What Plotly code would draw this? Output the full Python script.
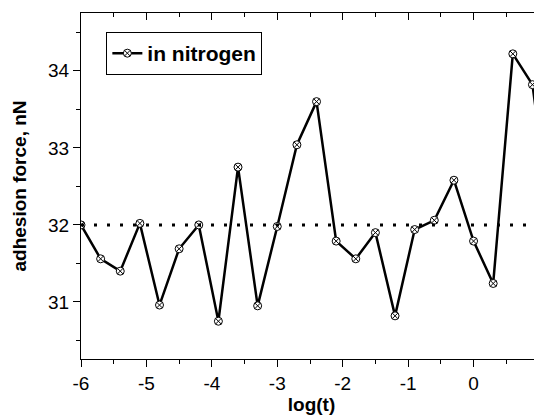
import plotly.graph_objects as go


# Valores.
LOG_T = [-6.0, -5.7, -5.4, -5.1, -4.8, -4.5, -4.2, -3.9, -3.6, -3.3, -3.0, -2.7, -2.4,
         -2.1, -1.8, -1.5, -1.2, -0.9, -0.6, -0.3, 0.0, 0.3, 0.6, 0.9, 1.2]
FUERZA = [32.00, 31.56, 31.40, 32.02, 30.96, 31.69, 32.00, 30.75, 32.75, 30.95, 31.98,
          33.04, 33.60, 31.79, 31.56, 31.90, 30.82, 31.94, 32.06, 32.58, 31.79, 31.24,
          34.22, 33.82, 31.90]
NIVEL_REF = 32.0
SERIE = "in nitrogen"

# Etiquetas de los ejes (con guion normal, como en el original).
X_TICKS = [-6, -5, -4, -3, -2, -1, 0, 1]
X_LABELS = ["-6", "-5", "-4", "-3", "-2", "-1", "0", "1"]
Y_TICKS = [31, 32, 33, 34]
Y_LABELS = ["31", "32", "33", "34"]

FUENTE = "Liberation Sans, Arial, Helvetica, sans-serif"

# La página deja 8 px de margen alrededor del gráfico,
# así que la figura es 8 px más chica en cada dirección.
ANCHO = 534
ALTO = 409

fig = go.Figure()

fig.add_trace(
    go.Scatter(
        x=LOG_T,
        y=FUERZA,
        mode="lines+markers",
        name=f"<b>{SERIE}</b>",
        line=dict(color="black", width=2.5),
        marker=dict(
            symbol="circle-x",
            size=8,
            color="white",
            line=dict(color="black", width=1),
        ),
    )
)

# Línea punteada de referencia, dibujada en el eje superior.
fig.add_trace(
    go.Scatter(
        x=[LOG_T[0], LOG_T[-1]],
        y=[NIVEL_REF, NIVEL_REF],
        mode="lines",
        line=dict(color="black", width=3, dash="3px,10px"),
        xaxis="x2",
        showlegend=False,
        hoverinfo="skip",
    )
)

eje_x = dict(
    range=[-6, 1.046],
    tickvals=X_TICKS,
    ticktext=X_LABELS,
    ticklen=7,
    tickwidth=1,
    tickcolor="black",
    showline=True,
    linecolor="black",
    linewidth=1,
    showgrid=False,
    zeroline=False,
    automargin=False,
)

fig.update_layout(
    xaxis=dict(
        **eje_x,
        ticks="outside",
        minor=dict(dtick=0.5, ticks="outside", ticklen=4, tickcolor="black"),
        tickfont=dict(size=19, color="black"),
        title=dict(text="<b>log(t)</b>", font=dict(size=19, color="black"), standoff=4),
    ),
    xaxis2=dict(
        **eje_x,
        overlaying="x",
        matches="x",
        side="top",
        ticks="inside",
        minor=dict(dtick=0.5, ticks="inside", ticklen=4, tickcolor="black"),
        showticklabels=False,
    ),
    yaxis=dict(
        range=[30.26, 34.75],
        tickvals=Y_TICKS,
        ticktext=Y_LABELS,
        ticks="outside",
        ticklen=7,
        tickwidth=1,
        tickcolor="black",
        minor=dict(dtick=0.5, ticks="outside", ticklen=4, tickcolor="black"),
        showline=True,
        linecolor="black",
        linewidth=1,
        showgrid=False,
        zeroline=False,
        automargin=False,
        tickfont=dict(size=19, color="black"),
        title=dict(text="<b>adhesion force, nN</b>", font=dict(size=19, color="black"), standoff=16),
    ),
    width=ANCHO,
    height=ALTO,
    margin=dict(l=73, r=0, t=5, b=58),
    paper_bgcolor="white",
    plot_bgcolor="white",
    font=dict(family=FUENTE, color="black"),
    showlegend=True,
    legend=dict(
        x=0.055,
        y=0.945,
        xanchor="left",
        yanchor="top",
        bordercolor="black",
        borderwidth=1,
        bgcolor="white",
        font=dict(size=21, color="black"),
        itemwidth=30,
        tracegroupgap=0,
    ),
)

fig.write_html("out.html")
